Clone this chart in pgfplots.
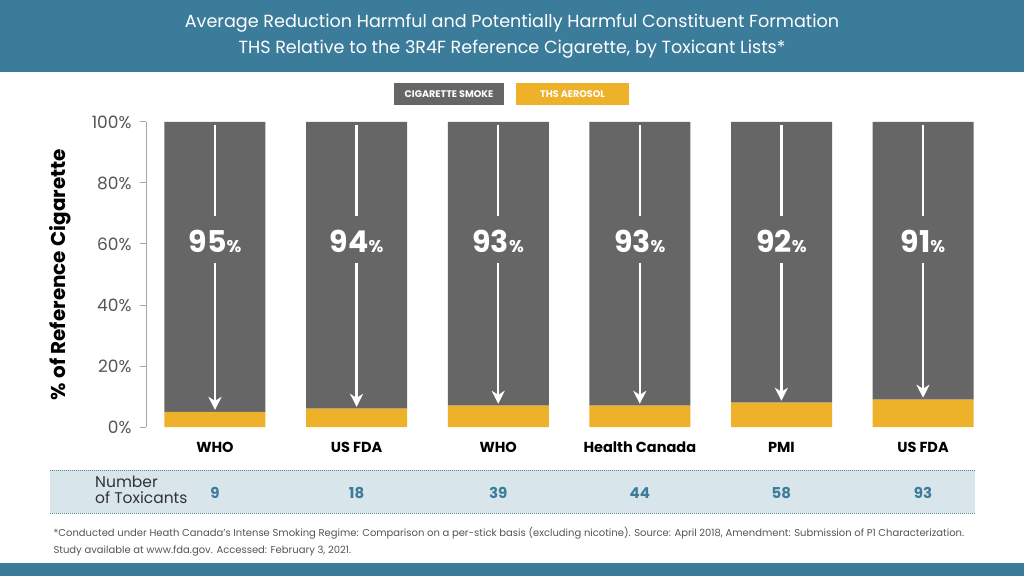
\documentclass[border=0pt]{standalone}
\usepackage{pgfplots}
\pgfplotsset{compat=1.18}
\usepackage{fontspec}
\setmainfont{Poppins}
\usetikzlibrary{arrows.meta}
\definecolor{hdr}{HTML}{3C7C9B}
\definecolor{gry}{HTML}{666666}
\definecolor{ylw}{HTML}{EEB22A}
\definecolor{tblbg}{HTML}{D8E5EB}
\definecolor{tick}{HTML}{555555}
\definecolor{foot}{HTML}{555555}
\definecolor{dots}{HTML}{5F7F90}
\begin{document}
\begin{tikzpicture}
\begin{scope}[x=1pt,y=1pt]
\fill[white] (0,0) rectangle (1024,576);
\fill[hdr] (0,504) rectangle (1024,576);
\node[white, font=\fontsize{17.6}{26}\selectfont, align=center] at (512,540) {Average Reduction Harmful and Potentially Harmful Constituent Formation\\THS Relative to the 3R4F Reference Cigarette, by Toxicant Lists*};
% legend
\fill[gry] (394,471) rectangle (504,493);
\node[white, font=\fontsize{9.6}{10}\selectfont\bfseries] at (449,482) {CIGARETTE SMOKE};
\fill[ylw] (516,471) rectangle (629,493);
\node[white, font=\fontsize{9.6}{10}\selectfont\bfseries] at (572.5,482) {THS AEROSOL};
% table
\fill[tblbg] (50,63) rectangle (975,106);
\draw[densely dotted, line width=1pt, color=dots] (50,106) -- (975,106);
\draw[densely dotted, line width=1pt, color=dots] (50,63) -- (975,63);
\node[anchor=west, align=left, font=\fontsize{15.5}{16}\selectfont, color=black!80, inner sep=0pt] at (95,86) {Number\\of Toxicants};
\end{scope}
\begin{axis}[
  at={(146pt,149pt)}, anchor=south west,
  scale only axis, width=848pt, height=305pt,
  xmin=-0.487, xmax=5.5, ymin=0, ymax=100,
  clip=false,
  ybar stacked, bar width=101pt,
  axis x line=none,
  axis y line*=left,
  y axis line style={draw=black!35, line width=1pt},
  ytick={0,20,40,60,80,100},
  tick align=outside, major tick length=6pt,
  every tick/.style={draw=black!35, line width=1pt},
  yticklabel={\pgfmathprintnumber{\tick}\%},
  /pgf/number format/assume math mode=true,
  yticklabel style={font=\fontsize{17}{17}\selectfont, color=tick, xshift=-5pt},
  ylabel={\textbf{\% of Reference Cigarette}},
  every axis y label/.style={at={(axis description cs:-0.1015,0.5)}, rotate=90, anchor=center, font=\fontsize{20}{20}\selectfont},
]
\addplot[fill=ylw, draw=none] coordinates {(0,5) (1,6) (2,7) (3,7) (4,8) (5,9)};
\addplot[fill=gry, draw=none] coordinates {(0,95) (1,94) (2,93) (3,93) (4,92) (5,91)};
\end{axis}
\begin{scope}[x=1pt,y=1pt]
% category labels, numbers, arrows
\foreach \x/\cat/\n/\p/\v in {215/WHO/9/95/5, 356.6/US FDA/18/94/6, 498.2/WHO/39/93/7, 639.8/Health Canada/44/93/7, 781.4/PMI/58/92/8, 923/US FDA/93/91/9}{
  \node[font=\fontsize{14.5}{14}\selectfont\bfseries] at (\x,129) {\cat};
  \node[font=\fontsize{15}{15}\selectfont\bfseries, color=hdr] at (\x,83) {\n};
  \node[white, font=\fontsize{30}{30}\selectfont\bfseries] at (\x,335) {\p{\fontsize{17}{17}\selectfont\%}};
  \draw[white, line width=2.5pt] (\x,451) -- (\x,359.5);
  \draw[white, line width=2.5pt, -{Stealth[length=13pt,width=13pt,inset=4pt]}] (\x,313) -- (\x,{149+3.05*(\v+0.6)});
}
% footnote
\node[anchor=north west, align=left, font=\fontsize{10}{16.5}\selectfont, color=foot] at (50,52) {*Conducted under Heath Canada's Intense Smoking Regime: Comparison on a per-stick basis (excluding nicotine). Source: April 2018, Amendment: Submission of P1 Characterization.\\Study available at www.fda.gov. Accessed: February 3, 2021.};
\fill[hdr] (0,0) rectangle (1024,13);
\end{scope}
\end{tikzpicture}
\end{document}
